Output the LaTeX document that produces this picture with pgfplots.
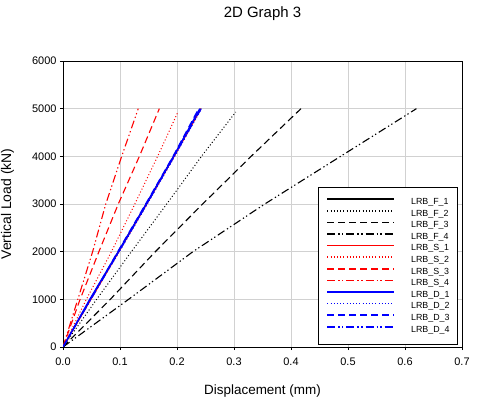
\documentclass[border=0pt]{standalone}
\usepackage{pgfplots}
\pgfplotsset{compat=1.18}
\usepackage{fontspec}
\setmainfont{Liberation Sans}
\tikzset{
  sF1/.style={draw=black, solid, line width=1.1bp},
  sF2/.style={draw=black, line width=1bp, dash pattern=on 1bp off 2.2bp},
  sF3/.style={draw=black, line width=1.1bp, dash pattern=on 7bp off 4bp},
  sF4/.style={draw=black, line width=1.1bp, dash pattern=on 8bp off 3bp on 1.3bp off 2.5bp on 1.3bp off 3bp},
  sS1/.style={draw=red, solid, line width=1.1bp},
  sS2/.style={draw=red, line width=1bp, dash pattern=on 1bp off 2.2bp},
  sS3/.style={draw=red, line width=1.1bp, dash pattern=on 7bp off 4bp},
  sS4/.style={draw=red, line width=1.1bp, dash pattern=on 8bp off 3bp on 1.3bp off 2.5bp on 1.3bp off 3bp},
  sD1/.style={draw=blue, solid, line width=1.4bp},
  sD2/.style={draw=blue, line width=1bp, dash pattern=on 1bp off 2.2bp},
  sD3/.style={draw=blue, line width=1.2bp, dash pattern=on 7bp off 4bp},
  sD4/.style={draw=blue, line width=1.2bp, dash pattern=on 8bp off 3bp on 1.3bp off 2.5bp on 1.3bp off 3bp},
}
\begin{document}
\begin{tikzpicture}
\path[use as bounding box] (0,0) rectangle (500bp,398bp);
\begin{axis}[
  at={(63bp,51bp)}, anchor=south west,
  scale only axis, width=399bp, height=286bp,
  xmin=0, xmax=0.7, ymin=0, ymax=6000,
  xtick={0,0.1,...,0.7}, ytick={0,1000,...,6000},
  xticklabel style={yshift=-4bp, /pgf/number format/.cd, fixed, fixed zerofill, precision=1},
  yticklabel style={/pgf/number format/.cd, fixed, 1000 sep={}},
  /pgf/number format/assume math mode=true,
  scaled ticks=false,
  tick align=outside, tick pos=left, major tick length=3bp,
  tick style={black, line width=0.6bp},
  ticklabel style={font=\fontsize{11}{13}\selectfont},
  grid=major, grid style={line width=0.8bp, color=black!18},
  axis line style={line width=0.8bp},
  every axis title shift=0pt,
  title={2D Graph 3},
  title style={at={(axis description cs:0.5,1.1538)}, anchor=base, font=\fontsize{15}{18}\selectfont},
  xlabel={Displacement (mm)},
  xlabel style={at={(axis description cs:0.5,-0.165)}, anchor=base, font=\fontsize{13.5}{16}\selectfont},
  ylabel={Vertical Load (kN)},
  ylabel style={at={(axis description cs:-0.1303,0.5)}, anchor=base, rotate=0, font=\fontsize{14}{16}\selectfont},
  legend image code/.code={\draw[#1, line width=1.6bp] (0bp,3bp) -- (67bp,3bp);},
  legend cell align=left,
  legend style={at={(1,0)}, anchor=south east, xshift=-4bp, yshift=2.5bp,
    draw=black, line width=0.8bp, inner xsep=8bp, inner ysep=8.5bp,
    font=\fontsize{8.9}{10}\selectfont, row sep=0pt, column sep=16bp,
    nodes={inner sep=0pt, text height=8bp, text depth=3.6bp}},
]
\addplot[sF1] coordinates {(0,0) (0.048,1000) (0.097,2000) (0.146,3000) (0.194,4000) (0.241,5000)};
\addlegendentry{LRB\_F\_1}
\addplot[sF2] coordinates {(0,0) (0.059,1000) (0.120,2000) (0.182,3000) (0.243,4000) (0.303,4930)};
\addlegendentry{LRB\_F\_2}
\addplot[sF3] coordinates {(0,0) (0.083,1000) (0.162,2000) (0.245,3000) (0.330,4000) (0.4175,5000)};
\addlegendentry{LRB\_F\_3}
\addplot[sF4] coordinates {(0,0) (0.115,1000) (0.228,2000) (0.354,3000) (0.487,4000) (0.620,5000)};
\addlegendentry{LRB\_F\_4}
\addplot[sS1] coordinates {(0,0) (0.049,1000) (0.098,2000) (0.147,3000) (0.195,4000) (0.242,5000)};
\addlegendentry{LRB\_S\_1}
\addplot[sS2] coordinates {(0,0) (0.041,1000) (0.085,2000) (0.126,3000) (0.166,4000) (0.202,4940)};
\addlegendentry{LRB\_S\_2}
\addplot[sS3] coordinates {(0,0) (0.030,1000) (0.063,2000) (0.097,3000) (0.134,4000) (0.169,5000)};
\addlegendentry{LRB\_S\_3}
\addplot[sS4] coordinates {(0,0) (0.026,1000) (0.052,2000) (0.075,3000) (0.103,4000) (0.132,5000)};
\addlegendentry{LRB\_S\_4}
\addplot[sD1] coordinates {(0,0) (0.047,1000) (0.097,2000) (0.146,3000) (0.194,4000) (0.240,5000)};
\addlegendentry{LRB\_D\_1}
\addplot[sD2] coordinates {(0,0) (0.048,1000) (0.099,2000) (0.148,3000) (0.196,4000) (0.243,5000)};
\addlegendentry{LRB\_D\_2}
\addplot[sD3] coordinates {(0,0) (0.048,1000) (0.096,2000) (0.145,3000) (0.193,4000) (0.238,5000)};
\addlegendentry{LRB\_D\_3}
\addplot[sD4] coordinates {(0,0) (0.049,1000) (0.098,2000) (0.147,3000) (0.195,4000) (0.242,4990)};
\addlegendentry{LRB\_D\_4}
\end{axis}
\end{tikzpicture}
\end{document}
